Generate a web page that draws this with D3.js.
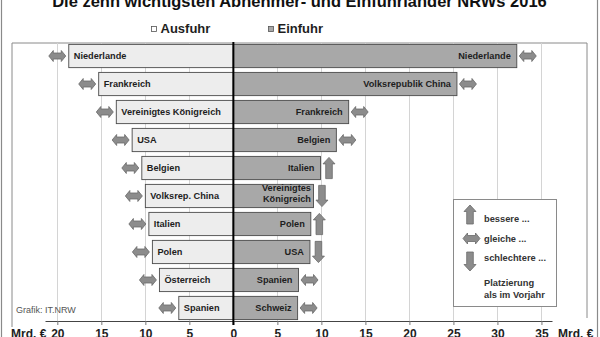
<!DOCTYPE html>
<html>
<head>
<meta charset="utf-8">
<script src="https://cdn.jsdelivr.net/npm/d3@7"></script>
<style>
  html, body { margin: 0; padding: 0; background: #fff; }
  svg { display: block; font-family: "Liberation Sans", Arial, sans-serif; }
</style>
</head>
<body>
<svg id="chart" width="600" height="337"></svg>
<script>
// Export partners (Ausfuhr), ranked
const exportCountries = ["Niederlande", "Frankreich", "Vereinigtes Königreich", "USA", "Belgien",
  "Volksrep. China", "Italien", "Polen", "Österreich", "Spanien"];
const exportValues = [18.7, 15.3, 13.3, 11.5, 10.4, 10.0, 9.6, 9.2, 8.4, 6.2];
const exportTrend = ["same", "same", "same", "same", "same", "same", "same", "same", "same", "same"];

// Import partners (Einfuhr), ranked
const importCountries = ["Niederlande", "Volksrepublik China", "Frankreich", "Belgien", "Italien",
  "Vereinigtes\nKönigreich", "Polen", "USA", "Spanien", "Schweiz"];
const importValues = [32.2, 25.4, 13.1, 11.7, 9.9, 9.1, 8.8, 8.7, 7.4, 7.3];
const importTrend = ["same", "same", "same", "same", "up", "down", "up", "down", "same", "same"];

const tickValues = [-20, -15, -10, -5, 0, 5, 10, 15, 20, 25, 30, 35];
const unitLabel = "Mrd. €";
const titleText = "Die zehn wichtigsten Abnehmer- und Einfuhrländer NRWs 2016";
const legendSeries = ["Ausfuhr", "Einfuhr"];
const legendTrend = [["up", "bessere ..."], ["same", "gleiche ..."], ["down", "schlechtere ..."]];
const legendNote = ["Platzierung", "als im Vorjahr"];
const sourceText = "Grafik: IT.NRW";

const svg = d3.select("#chart");
const W = 600, H = 337;
const plotTop = 43, plotBottom = 321;
const frameLeft = 12, frameRight = 587;

const colExport = "#ededed", colImport = "#a8a8a8", barStroke = "#4a4a4a";
const arrowFill = "#8c8c8c", arrowStroke = "#6a6a6a";
const textCol = "#1e1e1e";

// signed scale: exports to the left of zero, imports to the right
const x = d3.scaleLinear().domain([-21.4, 36.2]).range([45, 552]);
const rows = d3.range(exportCountries.length);
const y = d3.scaleBand().domain(rows).range([plotTop, plotBottom]).paddingInner(0.17).paddingOuter(0.05);
const bw = y.bandwidth();

// outer border of the graphic
svg.append("rect").attr("x", 1.5).attr("y", -5).attr("width", W - 4).attr("height", H + 10)
  .attr("fill", "none").attr("stroke", "#8a8a8a").attr("stroke-width", 1.2);

// title
const title = svg.append("text").attr("x", 299.5).attr("y", 7).attr("text-anchor", "middle")
  .attr("font-weight", "bold").attr("font-size", 16).attr("fill", "#111").text(titleText);
const tw = title.node().getComputedTextLength();
title.attr("font-size", 16 * 495 / tw);

// series legend
const legX = [151, 268];
legendSeries.forEach((name, i) => {
  svg.append("rect").attr("x", legX[i] + 0.5).attr("y", 26.5).attr("width", 5).attr("height", 5)
    .attr("fill", i === 0 ? "#fff" : colImport).attr("stroke", "#555").attr("stroke-width", 0.8);
  svg.append("text").attr("x", legX[i] + 9.5).attr("y", 33.3).attr("font-size", 13)
    .attr("font-weight", "bold").attr("fill", textCol).text(name);
});

// frame
svg.append("line").attr("x1", frameLeft).attr("x2", frameRight).attr("y1", plotTop).attr("y2", plotTop)
  .attr("stroke", "#8a8a8a").attr("stroke-width", 1);
svg.append("line").attr("x1", frameLeft).attr("x2", frameLeft).attr("y1", plotTop).attr("y2", 327)
  .attr("stroke", "#8a8a8a").attr("stroke-width", 1);
svg.append("line").attr("x1", frameRight).attr("x2", frameRight).attr("y1", plotTop).attr("y2", 318)
  .attr("stroke", "#8a8a8a").attr("stroke-width", 1);

// gridlines
svg.append("g").selectAll("line").data(tickValues.filter(d => d !== 0)).join("line")
  .attr("x1", d => Math.round(x(d)) + 0.5).attr("x2", d => Math.round(x(d)) + 0.5)
  .attr("y1", plotTop).attr("y2", plotBottom)
  .attr("stroke", "#d4d4d4").attr("stroke-width", 1);

// bottom axis
const axis = d3.axisBottom(x).tickValues(tickValues).tickSize(4).tickSizeOuter(0)
  .tickFormat(d => Math.abs(d));
const gAxis = svg.append("g").attr("transform", `translate(0,${plotBottom})`).call(axis);
gAxis.select(".domain").attr("stroke", "#444");
gAxis.selectAll(".tick line").attr("stroke", "#777");
gAxis.selectAll(".tick text").attr("font-size", 12).attr("font-weight", "bold")
  .attr("fill", textCol).attr("font-family", "Liberation Sans, Arial, sans-serif").attr("dy", 0).attr("y", 16.5);
svg.append("text").attr("x", 11).attr("y", 337.5).attr("font-size", 12).attr("font-weight", "bold")
  .attr("fill", textCol).text(unitLabel);
svg.append("text").attr("x", 558).attr("y", 337.5).attr("font-size", 12).attr("font-weight", "bold")
  .attr("fill", textCol).text(unitLabel);

// arrow shapes centred at the origin
function arrowPath(kind, h) {
  if (kind === "same") {
    return "M-8.5,0L-4,-5.5L-4,-3L4,-3L4,-5.5L8.5,0L4,5.5L4,3L-4,3L-4,5.5Z";
  }
  const s = kind === "up" ? 1 : -1;
  const t = -h / 2 * s, hb = (-h / 2 + 6.5) * s, b = h / 2 * s;
  return `M0,${t}L6,${hb}L3.3,${hb}L3.3,${b}L-3.3,${b}L-3.3,${hb}L-6,${hb}Z`;
}
function arrowHalfWidth(kind) { return kind === "same" ? 8.5 : 6; }

// export bars (left)
const gOut = svg.append("g");
gOut.selectAll("rect").data(rows).join("rect")
  .attr("x", i => x(-exportValues[i])).attr("y", i => y(i))
  .attr("width", i => x(0) - x(-exportValues[i])).attr("height", bw)
  .attr("fill", colExport).attr("stroke", barStroke).attr("stroke-width", 0.9);
gOut.selectAll("text").data(rows).join("text")
  .attr("x", i => x(-exportValues[i]) + 5).attr("y", i => y(i) + bw / 2).attr("dy", "0.36em")
  .attr("font-size", 9.2).attr("font-weight", "bold").attr("fill", textCol)
  .text(i => exportCountries[i]);
gOut.selectAll("path").data(rows).join("path")
  .attr("d", i => arrowPath(exportTrend[i], bw - 2))
  .attr("transform", i => `translate(${x(-exportValues[i]) - 3 - arrowHalfWidth(exportTrend[i])},${y(i) + bw / 2})`)
  .attr("fill", arrowFill).attr("stroke", arrowStroke).attr("stroke-width", 0.8);

// import bars (right)
const gIn = svg.append("g");
gIn.selectAll("rect").data(rows).join("rect")
  .attr("x", x(0)).attr("y", i => y(i))
  .attr("width", i => x(importValues[i]) - x(0)).attr("height", bw)
  .attr("fill", colImport).attr("stroke", barStroke).attr("stroke-width", 0.9);
gIn.selectAll("text").data(rows).join("text")
  .attr("text-anchor", "end").attr("font-size", 9.2).attr("font-weight", "bold").attr("fill", textCol)
  .each(function (i) {
    const lines = importCountries[i].split("\n");
    const t = d3.select(this);
    const xr = x(importValues[i]) - (lines.length > 1 ? 2.5 : 6);
    const yc = y(i) + bw / 2;
    lines.forEach((ln, k) => {
      t.append("tspan").attr("x", xr)
        .attr("y", yc + (lines.length > 1 ? (k === 0 ? -5 : 6.5) : 3.3)).text(ln);
    });
  });
gIn.selectAll("path").data(rows).join("path")
  .attr("d", i => arrowPath(importTrend[i], bw - 2))
  .attr("transform", i => `translate(${x(importValues[i]) + 2.5 + arrowHalfWidth(importTrend[i])},${y(i) + bw / 2})`)
  .attr("fill", arrowFill).attr("stroke", arrowStroke).attr("stroke-width", 0.8);

// zero line
svg.append("line").attr("x1", x(0)).attr("x2", x(0)).attr("y1", plotTop - 1).attr("y2", plotBottom + 4)
  .attr("stroke", "#000").attr("stroke-width", 2);

// trend legend box
const lg = svg.append("g");
lg.append("rect").attr("x", 453.5).attr("y", 199.5).attr("width", 103).attr("height", 107)
  .attr("fill", "#fff").attr("stroke", "#8a8a8a").attr("stroke-width", 1);
const legRowY = [214.5, 238.5, 261.5];
legendTrend.forEach(([kind, label], k) => {
  lg.append("path").attr("d", arrowPath(kind, 19))
    .attr("transform", `translate(${kind === "same" ? 471.5 : 470},${legRowY[k]})`)
    .attr("fill", arrowFill).attr("stroke", arrowStroke).attr("stroke-width", 0.8);
  lg.append("text").attr("x", 484).attr("y", [222.3, 241.7, 260.7][k])
    .attr("font-size", 9.3).attr("font-weight", "bold").attr("fill", "#333").text(label);
});
legendNote.forEach((ln, k) => {
  lg.append("text").attr("x", 484).attr("y", 285.7 + k * 12.6)
    .attr("font-size", 9.3).attr("font-weight", "bold").attr("fill", "#333").text(ln);
});

// source note
svg.append("text").attr("x", 16).attr("y", 312.5).attr("font-size", 9).attr("fill", "#555").text(sourceText);
</script>
</body>
</html>
